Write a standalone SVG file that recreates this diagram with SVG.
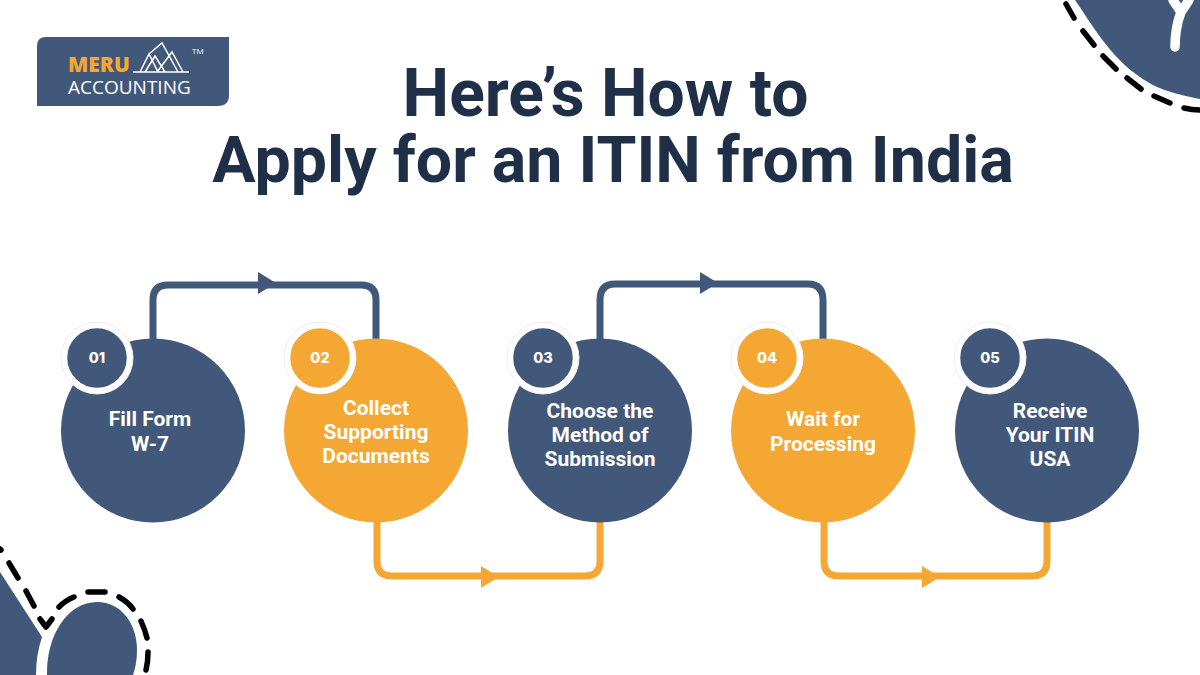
<svg xmlns="http://www.w3.org/2000/svg" width="1200" height="675" viewBox="0 0 1200 675">
<style>
.t{font-family:Roboto,"Liberation Sans",sans-serif;font-weight:700;fill:#1e2f47;font-size:64.5px;text-anchor:middle}
.l{font-family:Roboto,"Liberation Sans",sans-serif;font-weight:700;fill:#fff;font-size:21px;text-anchor:middle}
.n{font-family:Inter,"Liberation Sans",sans-serif;font-weight:800;fill:#fff;font-size:14.5px;text-anchor:middle}
.b{fill:#42587a}.o{fill:#f5a733}
.ring{stroke:#fff;stroke-width:5.5}
.halo{fill:#fff;stroke:#eeeeee;stroke-width:1}
.c{fill:none;stroke-width:7}
.d{fill:none;stroke:#000;stroke-width:5.5;stroke-linecap:round;stroke-linejoin:round}
</style>
<rect width="1200" height="675" fill="#fff"/>
<g id="deco-top">
<path class="b" d="M1075 0C1091 23 1110 57 1140 77C1155 88 1170 93 1200 99V0Z"/>
<path d="M1175 47Q1175 28 1181 12L1173 0M1181 12L1189 0" fill="none" stroke="#fff" stroke-width="9.5" stroke-linecap="round"/>
<path class="d" d="M1066 4L1074 18M1083 31L1094 45M1103 56L1116 69M1127 78L1141 89M1154 96L1170 103M1184 108Q1192 110 1200 110"/>
</g>
<g id="deco-bottom">
<path class="b" d="M0 572L42 637Q36 655 36 675H0Z"/>
<path class="b" d="M47 675C46 635 68 602 97 602C122 602 137 625 137 650Q137 664 133 675Z"/>
<path class="d" d="M0 549L1 550M9 563L18 578M26 591L34 606M40 619L46 627L52 619M59 607Q66 600 74 597M88 592H105M119 597Q128 602 133 609M141 621Q145 630 147 638M148 652Q148 662 146 670"/>
</g>
<g id="logo">
<path class="b" d="M46 37H229V95Q229 106 218 106H37V46Q37 37 46 37Z"/>
<text x="68" y="72" font-family="'Open Sans','Liberation Sans',sans-serif" font-weight="800" font-size="21" fill="#f5a733">MERU</text>
<text x="68" y="94" font-family="'Open Sans','Liberation Sans',sans-serif" font-size="19" fill="#fff">ACCOUNTING</text>
<path d="M133 72H189M140 72L149 54L158 72M145 72L155 56L165 72M149 54L162 43L178 72M157 72L172 52L183 72" fill="none" stroke="#fff" stroke-width="1.5"/>
<text x="192" y="54" font-family="'Open Sans','Liberation Sans',sans-serif" font-size="8" fill="#fff">TM</text>
</g>
<g id="title">
<text class="t" x="605.5" y="116" style="font-size:66px">Here’s How to</text>
<text class="t" x="613" y="182">Apply for an ITIN from India</text>
</g>
<g id="connectors">
<path class="c" stroke="#42587a" d="M153 340V300Q153 285 168 285H361Q376 285 376 300V340"/>
<path class="c" stroke="#f5a733" d="M377 520V561Q377 576 392 576H585Q600 576 600 561V520"/>
<path class="c" stroke="#42587a" d="M600 340V300Q600 284 615 284H808Q823 284 823 300V340"/>
<path class="c" stroke="#f5a733" d="M824 520V561Q824 576 839 576H1032Q1047 576 1047 561V520"/>
<path class="b" d="M258 272L276 283L258 294Z"/>
<path class="o" d="M481 566L499 577L481 588Z"/>
<path class="b" d="M700 272L718 283L700 294Z"/>
<path class="o" d="M922 566L940 577L922 588Z"/>
</g>
<g id="node1"><circle class="b" cx="153" cy="430.5" r="92"/><circle class="halo" cx="97" cy="358" r="36"/><circle class="b ring" cx="97" cy="358" r="32.5"/><text class="n" x="97" y="363">01</text><text class="l"><tspan x="150" y="426">Fill Form</tspan><tspan x="150" y="451">W-7</tspan></text></g>
<g id="node2"><circle class="o" cx="376" cy="430.5" r="92"/><circle class="halo" cx="320" cy="358" r="36"/><circle class="o ring" cx="320" cy="358" r="32.5"/><text class="n" x="320" y="363">02</text><text class="l"><tspan x="376" y="414.500">Collect</tspan><tspan x="376" y="439">Supporting</tspan><tspan x="376" y="463">Documents</tspan></text></g>
<g id="node3"><circle class="b" cx="600" cy="430.5" r="92"/><circle class="halo" cx="543" cy="358" r="36"/><circle class="b ring" cx="543" cy="358" r="32.5"/><text class="n" x="543" y="363">03</text><text class="l"><tspan x="600" y="417.500">Choose the</tspan><tspan x="600" y="442">Method of</tspan><tspan x="600" y="466">Submission</tspan></text></g>
<g id="node4"><circle class="o" cx="823" cy="430.5" r="92"/><circle class="halo" cx="767" cy="358" r="36"/><circle class="o ring" cx="767" cy="358" r="32.5"/><text class="n" x="767" y="363">04</text><text class="l"><tspan x="823" y="426">Wait for</tspan><tspan x="823" y="451">Processing</tspan></text></g>
<g id="node5"><circle class="b" cx="1047" cy="430.5" r="92"/><circle class="halo" cx="990" cy="358" r="36"/><circle class="b ring" cx="990" cy="358" r="32.5"/><text class="n" x="990" y="363">05</text><text class="l"><tspan x="1050" y="417.500">Receive</tspan><tspan x="1050" y="442">Your ITIN</tspan><tspan x="1050" y="466">USA</tspan></text></g>
</svg>
